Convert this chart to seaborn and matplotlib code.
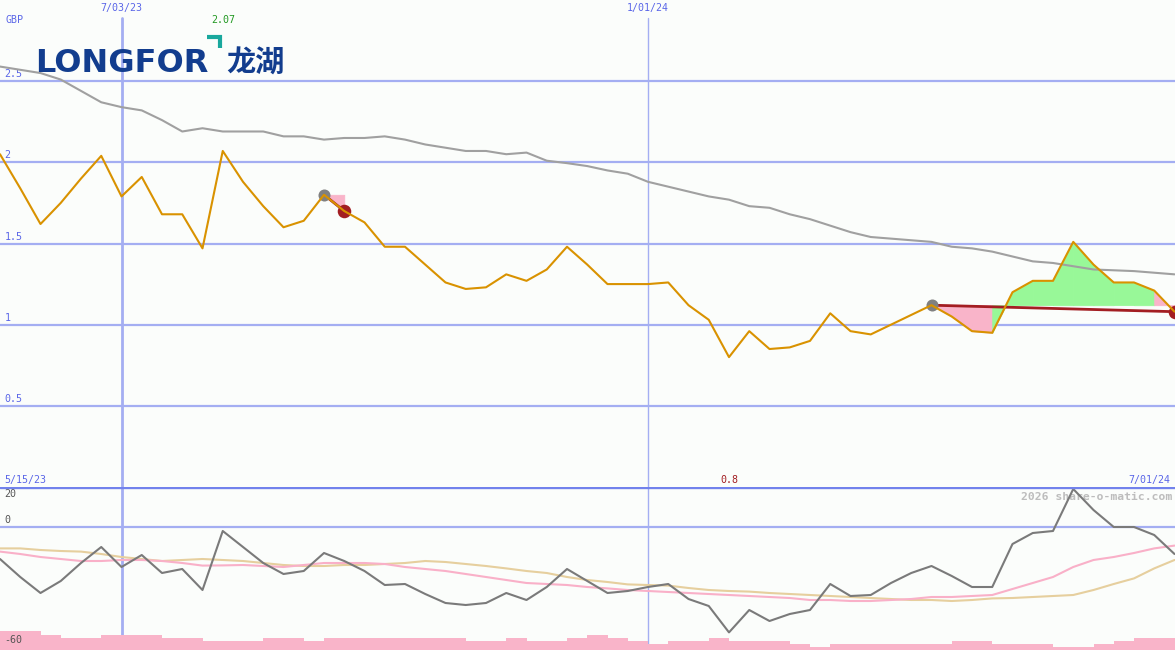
import numpy as np
import pandas as pd
import matplotlib
matplotlib.use("Agg")
import matplotlib.pyplot as plt
import matplotlib.transforms as mtransforms
from matplotlib.lines import Line2D
import seaborn as sns

# weekly closes (GBP), week 0 = late May 2023
price = [2.05, 1.84, 1.62, 1.75, 1.90, 2.04, 1.79, 1.91, 1.68, 1.68,
         1.47, 2.07, 1.88, 1.73, 1.60, 1.64, 1.80, 1.70, 1.63, 1.48,
         1.48, 1.37, 1.26, 1.22, 1.23, 1.31, 1.27, 1.34, 1.48, 1.37,
         1.25, 1.25, 1.25, 1.26, 1.12, 1.03, 0.80, 0.96, 0.85, 0.86,
         0.90, 1.07, 0.96, 0.94, 1.00, 1.06, 1.12, 1.05, 0.96, 0.95,
         1.20, 1.27, 1.27, 1.51, 1.37, 1.26, 1.26, 1.21, 1.08]
avg_long = [2.59, 2.57, 2.55, 2.51, 2.44, 2.37, 2.34, 2.32, 2.26, 2.19,
            2.21, 2.19, 2.19, 2.19, 2.16, 2.16, 2.14, 2.15, 2.15, 2.16,
            2.14, 2.11, 2.09, 2.07, 2.07, 2.05, 2.06, 2.01, 1.995, 1.977,
            1.95, 1.93, 1.88, 1.85, 1.82, 1.79, 1.77, 1.73, 1.72, 1.68,
            1.65, 1.61, 1.57, 1.54, 1.53, 1.52, 1.51, 1.48, 1.47, 1.45,
            1.42, 1.39, 1.38, 1.36, 1.34, 1.335, 1.33, 1.32, 1.31]
osc = [-16, -25, -33, -27, -18, -10, -20, -14, -23, -21,
       -31.5, -2, -10, -18, -23.5, -22, -13, -17, -22, -29,
       -28.5, -33.5, -38, -39, -38, -33, -36.5, -30, -21, -27,
       -33, -32, -30, -28.5, -36, -39.5, -52.7, -41.5, -47, -43.5,
       -41.5, -28.5, -34.5, -34, -28, -23, -19.5, -24.5, -30, -30,
       -8.5, -3, -2, 19, 8.5, 0, 0, -4, -13.5]
osc_fast = [-12.3, -13.5, -15, -16, -17, -17, -16.5, -16.5, -17, -18,
            -19.3, -19.2, -19, -19.5, -20, -19, -18, -18, -18, -18.5,
            -20, -21, -22, -23.5, -25, -26.5, -28, -28.5, -29, -30,
            -30.7, -31.5, -32, -32.5, -33, -33.5, -34, -34.5, -35, -35.5,
            -36.5, -36.5, -37, -37, -36.5, -36, -35, -35, -34.5, -34,
            -31, -28, -25, -20, -16.5, -15, -13, -10.7, -9.3]
osc_slow = [-10.7, -10.7, -11.5, -12, -12.3, -13.5, -15, -16, -17, -16.5,
            -16, -16.5, -17, -18, -19, -19.5, -19.5, -19, -19, -18.5,
            -18, -17, -17.5, -18.5, -19.5, -20.7, -22, -23, -25, -26.5,
            -27.5, -28.7, -29, -29.3, -30.5, -31.5, -32, -32.3, -33, -33.5,
            -34, -34.5, -35, -35.5, -36, -36.5, -36.5, -37, -36.5, -35.7,
            -35.5, -35, -34.5, -34, -31.5, -28.5, -25.7, -20.7, -16.5]
volume = [9.5, 9.5, 7.5, 6, 6, 7.5, 7.5, 7.5, 6, 6,
          4.5, 4.5, 4.5, 6, 6, 4.5, 6, 6, 6, 6,
          6, 6, 6, 4.5, 4.5, 6, 4.5, 4.5, 6, 7.5,
          6, 4.5, 3, 4.5, 4.5, 6, 4.5, 4.5, 4.5, 3,
          1.5, 3, 3, 3, 3, 3, 3, 4.5, 4.5, 3,
          3, 3, 1.5, 1.5, 3, 4.5, 6, 6, 6]
trade_entry = [16, 46]
trade_exit = [17, 58]
date_weeks = [6, 32]
date_labels = ["7/03/23", "1/01/24"]
start_label = "5/15/23"
end_label = "7/01/24"
price_ticks = [0.5, 1, 1.5, 2, 2.5]
osc_ticks = [20, 0, -60]

df = pd.DataFrame({"week": np.arange(len(price)), "price": price, "avg": avg_long,
                   "osc": osc, "fast": osc_fast, "slow": osc_slow, "vol": volume})

sns.set_style("white")
plt.rcParams["font.family"] = ["DejaVu Sans Mono", "DejaVu Sans"]

W, H = 1175, 650
BG = "#fbfdfb"
GRID = "#a4aef2"
DIV = "#7282ec"
BLUE = "#5a66e8"
fig = plt.figure(figsize=(W / 100, H / 100), dpi=100, facecolor=BG)
low_h = 163
ax = fig.add_axes([0, low_h / H, 1, (H - low_h) / H])
ax2 = fig.add_axes([0, 0, 1, low_h / H])
xmax = W / 20.25
for a in (ax, ax2):
    a.set_facecolor(BG)
    a.set_xlim(0, xmax)
    a.set_xticks([])
    a.set_yticks([])
    for s in a.spines.values():
        s.set_visible(False)
ax.set_ylim(0, 3.0)
ax2.set_ylim(-61.5, 20)

# grid
for v in price_ticks:
    ax.axhline(v, color=GRID, lw=1.6, zorder=1)
    ax.text(0.004, v + 0.012, f"{v:g}", transform=ax.get_yaxis_transform(),
            color=BLUE, fontsize=7.2, va="bottom", ha="left")
ax2.axhline(0, color=GRID, lw=1.6, zorder=1)
ax2.axhline(20, color=DIV, lw=2.4, zorder=5)
for w, lw in zip(date_weeks, [2.0, 1.0]):
    ax.axvline(w, ymax=0.963, color=GRID, lw=lw, zorder=1)
    ax2.axvline(w, color=GRID, lw=lw, zorder=1)

# trades
for e, x in zip(trade_entry, trade_exit):
    level = price[e]
    for i in range(e, x):
        col = "#98f898" if price[i + 1] > level else "#f9b4c9"
        ax.fill_between([i, i + 1], level, [price[i], price[i + 1]],
                        facecolor=col, edgecolor=col, lw=0.6, zorder=2)
    ax.plot([e, x], [price[e], price[x]], color="#a31e22", lw=2.0, zorder=3)
    ax.scatter([e], [price[e]], s=75, color="#808080", zorder=4, lw=0)
    ax.scatter([x], [price[x]], s=95, color="#a31e22", zorder=4, lw=0)

sns.lineplot(data=df, x="week", y="avg", color="#a0a0a0", lw=1.5, ax=ax, zorder=3)
sns.lineplot(data=df, x="week", y="price", color="#d99200", lw=1.5, ax=ax, zorder=5)
ax.set_xlabel("")
ax.set_ylabel("")

# lower panel
ax2.bar(df["week"], df["vol"], width=1.0, bottom=-61.5, align="edge",
        color="#f9b4c9", lw=0, zorder=2)
sns.lineplot(data=df, x="week", y="slow", color="#e6cf9e", lw=1.5, ax=ax2, zorder=3)
sns.lineplot(data=df, x="week", y="fast", color="#f9b0c8", lw=1.5, ax=ax2, zorder=3)
sns.lineplot(data=df, x="week", y="osc", color="#7a7a7a", lw=1.5, ax=ax2, zorder=4)
ax2.set_xlabel("")
ax2.set_ylabel("")
ytr = ax2.get_yaxis_transform()
ax2.text(0.004, 20 - 1.2, f"{osc_ticks[0]:g}", transform=ytr,
         color="#555555", fontsize=7.2, va="top", ha="left")
for v in osc_ticks[1:]:
    ax2.text(0.004, v + 1.2, f"{v:g}", transform=ytr,
             color="#555555", fontsize=7.2, va="bottom", ha="left")
ax2.text(0.9975, 0.94, "2026 share-o-matic.com", transform=ax2.transAxes,
         color="#bdbdbd", fontsize=8.2, weight="bold", ha="right", va="center")

# date labels
top = mtransforms.blended_transform_factory(ax.transData, fig.transFigure)
xbot = mtransforms.blended_transform_factory(ax.transData, ax.transAxes)
for w, lab in zip(date_weeks, date_labels):
    ax.text(w, 1 - 8 / H, lab, transform=top, color=BLUE, fontsize=7.2,
            ha="center", va="center")
ax.text(0.004, 0.004, start_label, transform=ax.transAxes, color=BLUE, fontsize=7.2,
        ha="left", va="bottom")
ax.text(0.996, 0.004, end_label, transform=ax.transAxes, color=BLUE, fontsize=7.2,
        ha="right", va="bottom")
imax = int(np.argmax(price))
imin = int(np.argmin(price))
ax.text(imax, 1 - 20 / H, f"{price[imax]:.2f}", transform=top, color="#229922",
        fontsize=7.2, ha="center", va="center")
ax.text(imin, 0.004, f"{price[imin]:g}", transform=xbot,
        color="#a31e22", fontsize=7.2, ha="center", va="bottom")
fig.text(5 / W, 1 - 20 / H, "GBP", color=BLUE, fontsize=7.2, ha="left", va="center")

# logo
LOGO = "#123d8e"
fig.text(35 / W, 1 - 72 / H, "LONGFOR", color=LOGO, fontsize=23, weight="bold",
         family="DejaVu Sans", ha="left", va="baseline")
fig.text(226 / W, 1 - 72 / H, "龙湖", color=LOGO, fontsize=21, weight="bold",
         family=["Noto Sans CJK SC", "DejaVu Sans"], ha="left", va="baseline")
fig.add_artist(Line2D([207 / W, 220.5 / W, 220.5 / W],
                      [1 - 36.5 / H, 1 - 36.5 / H, 1 - 48 / H],
                      color="#19a89d", lw=3.0, solid_joinstyle="miter",
                      solid_capstyle="butt"))

fig.savefig("out.png", dpi=100, facecolor=BG)
plt.close(fig)
